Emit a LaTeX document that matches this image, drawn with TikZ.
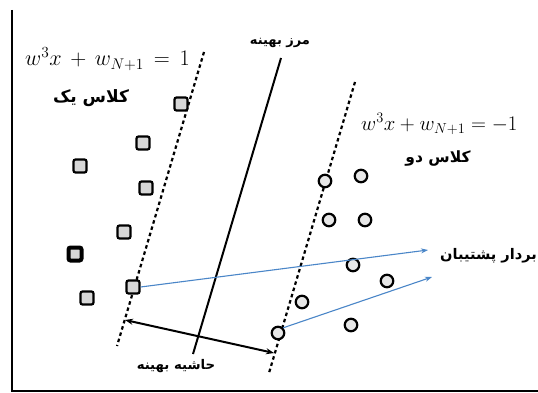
\documentclass[tikz,border=0pt]{standalone}
\usepackage{graphicx}
\usepackage{fontspec}
\newfontfamily\arabicfont[Script=Arabic]{DejaVu Sans}
\TeXXeTstate=1
\usetikzlibrary{arrows.meta}
\definecolor{svblue}{RGB}{74,134,200}
\definecolor{ptfill}{RGB}{215,215,215}
\tikzset{
  sq/.style={draw=black, line width=2.2pt, fill=ptfill, rounded corners=2pt, minimum size=13pt, inner sep=0pt},
  sqdark/.style={sq, line width=4pt},
  circ/.style={draw=black, line width=2.2pt, fill=ptfill!60, circle, minimum size=12.5pt, inner sep=0pt},
  dotline/.style={line width=2.2pt, dash pattern=on 3.5pt off 3pt},
  fa/.style={font=\arabicfont\bfseries, inner sep=0pt},
  eq/.style={font=\fontsize{20.74}{24}\selectfont, inner sep=0pt},
  svarrow/.style={draw=svblue, line width=1.1pt, -{Stealth[length=7pt,width=5pt]}},
}
\newcommand{\fsz}[1]{\fontsize{#1}{#1}\selectfont}
\newcommand{\eqbig}[1]{\scalebox{1.07}{#1}}
\begin{document}
\begin{tikzpicture}[x=1pt,y=-1pt]
\useasboundingbox (0,0) rectangle (538,393);
\fill[white] (0,0) rectangle (538,393);
% frame
\draw[line width=2.2pt] (12,10) -- (12,391) -- (538,391);
% lines
\coordinate (d1a) at (204,52);
\coordinate (d1b) at (117,346);
\coordinate (ha) at (281,58);
\coordinate (hb) at (193,354);
\coordinate (d2a) at (355,82);
\coordinate (d2b) at (269,373);
\draw[dotline] (d1a) -- (d1b);
\draw[dotline] (d2a) -- (d2b);
\draw[line width=2pt] (ha) -- (hb);
% class one squares
\node[sq] (s1) at (181,104) {};
\node[sq] (s2) at (143,143) {};
\node[sq] (s3) at (80,166) {};
\node[sq] (s4) at (146,188) {};
\node[sq] (s5) at (124,232) {};
\node[sqdark] (s6) at (75,254) {};
\node[sq] (sv1) at (133,287) {};
\node[sq] (s8) at (87,298) {};
% class two circles
\node[circ] (c1) at (325,181) {};
\node[circ] (c2) at (361,176) {};
\node[circ] (c3) at (329,220) {};
\node[circ] (c4) at (365,220) {};
\node[circ] (c5) at (353,265) {};
\node[circ] (c6) at (387,281) {};
\node[circ] (c7) at (302,302) {};
\node[circ] (c8) at (351,325) {};
\node[circ] (sv2) at (278,333) {};
% labels
\node[eq, anchor=west] (eq1) at (25,59) {\eqbig{$w^3x \,+\, w_{N+1} \,=\, 1$}};
\node[eq, anchor=west] (eq2) at (361,124) {$w^3x + w_{N+1} = -1$};
\node[fa, font=\arabicfont\bfseries\fsz{17}] (l1) at (91,98) {\beginR کلاس یک\endR};
\node[fa, font=\arabicfont\bfseries\fsz{15.5}] (l2) at (438,159) {\beginR کلاس دو\endR};
\node[fa, font=\arabicfont\bfseries\fsz{13}] (l3) at (280,43) {\beginR مرز بهینه\endR};
\node[fa, font=\arabicfont\bfseries\fsz{14.6}, anchor=west] (l4) at (440,256) {\beginR بردار پشتیبان\endR};
\node[fa, font=\arabicfont\bfseries\fsz{13.3}] (l5) at (176,366) {\beginR حاشیه بهینه\endR};
% margin arrow
\coordinate (m1) at (125,320);
\coordinate (m2) at (274,353);
\draw[line width=2pt, {Stealth[length=8pt,width=6pt]}-{Stealth[length=8pt,width=6pt]}] (m1) -- (m2);
% support vector arrows
\coordinate (t1) at (428,250);
\coordinate (t2) at (432,277);
\draw[svarrow] (sv1.east) -- (t1);
\draw[svarrow] (sv2.north east) -- (t2);
\end{tikzpicture}
\end{document}
